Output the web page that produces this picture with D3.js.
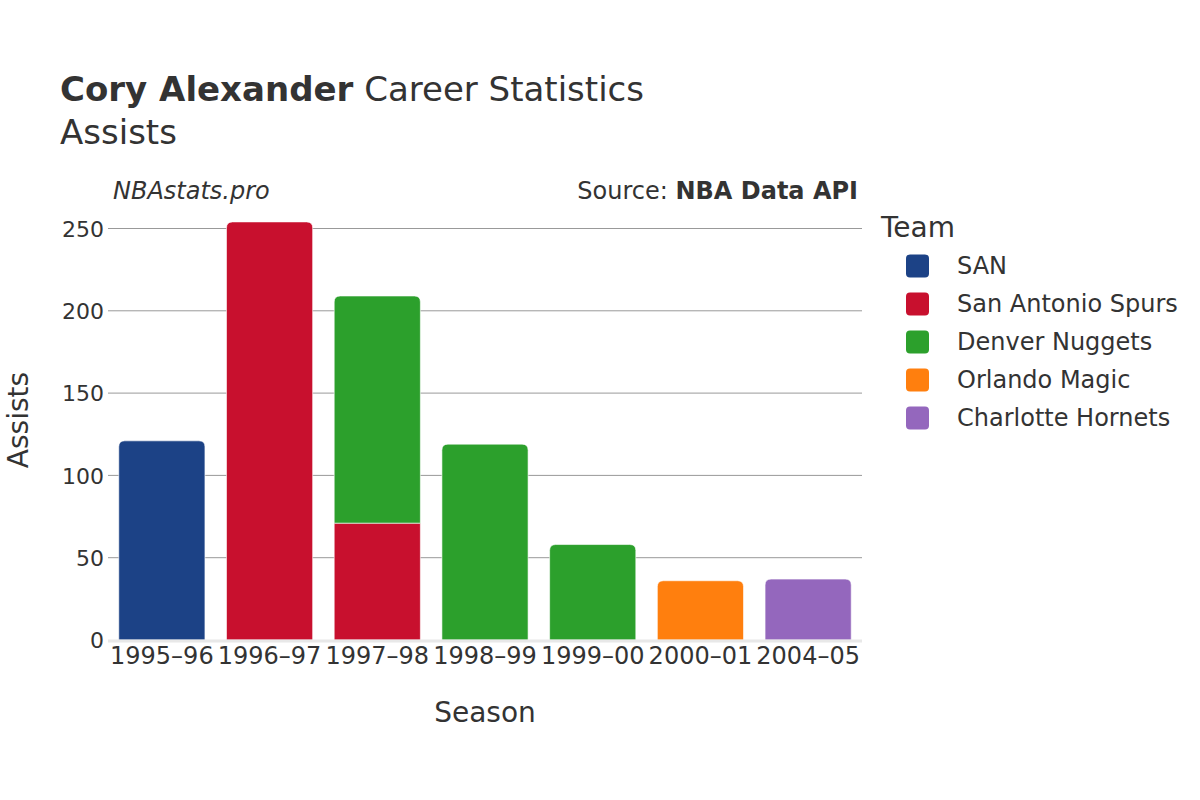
<!DOCTYPE html>
<html><head><meta charset="utf-8">
<script src="https://cdn.jsdelivr.net/npm/d3@7"></script>
<style>body{margin:0;background:#fff}svg{display:block}text{font-family:"DejaVu Sans",sans-serif;fill:#333}</style>
</head><body>
<script>
const seasons = ["1995–96","1996–97","1997–98","1998–99","1999–00","2000–01","2004–05"];
const teams = ["SAN","San Antonio Spurs","Denver Nuggets","Orlando Magic","Charlotte Hornets"];
const teamColors = ["#1c4286","#c8102e","#2ca02c","#ff7f0e","#9467bd"];
// segments in stacking order
const segSeason = ["1995–96","1996–97","1997–98","1997–98","1998–99","1999–00","2000–01","2004–05"];
const segTeam   = ["SAN","San Antonio Spurs","San Antonio Spurs","Denver Nuggets","Denver Nuggets","Denver Nuggets","Orlando Magic","Charlotte Hornets"];
const segValue  = [121,254,71,138,119,58,36,37];
const yTicks = [0,50,100,150,200,250];

const W=1200,H=800;
const svg=d3.select("body").append("svg").attr("width",W).attr("height",H);
const L=108,R=862,B=640;
const x=d3.scaleBand().domain(seasons).range([L,R]).paddingInner(0.2).paddingOuter(0.1);
const y=d3.scaleLinear().domain([0,262]).range([B,B-262*(411.5/250)]);
const color=d3.scaleOrdinal().domain(teams).range(teamColors);

// grid
svg.append("g").selectAll("line").data(yTicks.filter(d=>d>0)).join("line")
 .attr("x1",L).attr("x2",R).attr("y1",d=>y(d)).attr("y2",d=>y(d))
 .attr("stroke","#999").attr("stroke-width",1);

// stacks
const base={};
const segs=segSeason.map((s,i)=>{const b=base[s]||0;base[s]=b+segValue[i];return {s,t:segTeam[i],v:segValue[i],y0:b,y1:b+segValue[i]};});
const tops={};segs.forEach(d=>{tops[d.s]=d;});
function barPath(d){
  const x0=x(d.s),w=x.bandwidth(),yt=y(d.y1),yb=y(d.y0);
  const r=(tops[d.s]===d)?Math.min(6,(yb-yt)/2):0;
  return `M${x0},${yb}V${yt+r}Q${x0},${yt} ${x0+r},${yt}H${x0+w-r}Q${x0+w},${yt} ${x0+w},${yt+r}V${yb}Z`;
}
svg.append("g").selectAll("path").data(segs).join("path")
 .attr("d",barPath).attr("fill",d=>color(d.t)).attr("stroke","#fff").attr("stroke-width",0.6);

// zero line
svg.append("line").attr("x1",L).attr("x2",R).attr("y1",B+1).attr("y2",B+1).attr("stroke","#e8e8e8").attr("stroke-width",3);

// y axis
const ya=svg.append("g").attr("transform",`translate(${L},0)`).call(d3.axisLeft(y).tickValues(yTicks).tickSize(0).tickPadding(4));
ya.select(".domain").remove();
ya.selectAll("text").attr("font-size",22).attr("fill","#333").style("font-family","DejaVu Sans").attr("dy","0.35em");
// x axis
const xa=svg.append("g").attr("transform",`translate(0,${B})`).call(d3.axisBottom(x).tickSize(0).tickPadding(7));
xa.select(".domain").remove();
xa.selectAll("text").attr("font-size",24).attr("fill","#333").style("font-family","DejaVu Sans");

// titles
const t=svg.append("text").attr("x",60).attr("y",101).attr("font-size",34);
t.append("tspan").attr("font-weight","bold").text("Cory Alexander");
t.append("tspan").text(" Career Statistics");
svg.append("text").attr("x",60).attr("y",144).attr("font-size",34).text("Assists");
svg.append("text").attr("x",113).attr("y",199).attr("font-size",24).attr("font-style","italic").text("NBAstats.pro");
const src=svg.append("text").attr("x",858).attr("y",199).attr("font-size",24).attr("text-anchor","end");
src.append("tspan").text("Source: ");
src.append("tspan").attr("font-weight","bold").text("NBA Data API");

svg.append("text").attr("x",485).attr("y",722).attr("font-size",28).attr("text-anchor","middle").text("Season");
svg.append("text").attr("transform","translate(28,420) rotate(-90)").attr("font-size",28).attr("text-anchor","middle").text("Assists");

// legend
svg.append("text").attr("x",881).attr("y",237).attr("font-size",28).text("Team");
const lg=svg.append("g").selectAll("g").data(teams).join("g").attr("transform",(d,i)=>`translate(906,${266+i*38})`);
lg.append("rect").attr("x",0).attr("y",-11.5).attr("width",23).attr("height",23).attr("rx",4).attr("fill",d=>color(d));
lg.append("text").attr("x",51).attr("dy","0.35em").attr("font-size",24).text(d=>d);
</script>
</body></html>
